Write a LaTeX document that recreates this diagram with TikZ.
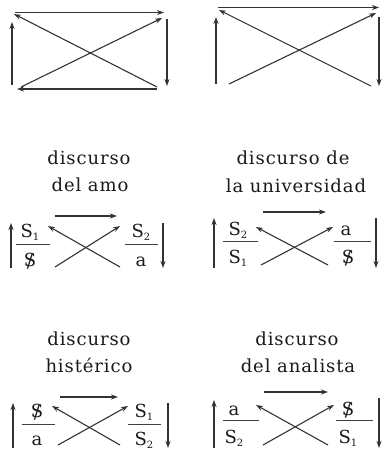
\documentclass[tikz,border=0pt]{standalone}
\usepackage{fontspec}
\setmainfont{DejaVu Serif}
\newfontfamily\labfont[LetterSpace=5]{DejaVu Serif}
\usetikzlibrary{arrows.meta}
\newcommand{\Sbarred}{\ooalign{S\cr\hidewidth\raisebox{-0.12ex}{/}\hidewidth}}
\newcommand{\Sub}[1]{S\raisebox{-0.35ex}{\fontsize{10}{10}\selectfont #1}}
\begin{document}
\begin{tikzpicture}[x=1pt,y=-1pt,
  arr/.style={draw=black!80,line width=1.1pt,-{Stealth[length=7pt,width=5pt]}},
  fbar/.style={draw=black!75,line width=0.9pt},
  title/.style={font=\labfont\fontsize{18}{20}\selectfont,anchor=base,inner sep=0pt,text=black!90},
  sym/.style={font=\fontsize{18}{18}\selectfont,anchor=base,inner sep=0pt,text=black!90}]
\useasboundingbox (0,0) rectangle (382,454);

% ---------- top-left diagram ----------
\coordinate (tla) at (12,85);  \coordinate (tlb) at (12,22);
\coordinate (tlc) at (15,12.5);\coordinate (tld) at (164,12.5);
\coordinate (tle) at (157,87); \coordinate (tlf) at (14,14);
\coordinate (tlg) at (21,87);  \coordinate (tlh) at (162,18);
\coordinate (tli) at (167,19); \coordinate (tlj) at (167,86);
\coordinate (tlk) at (157,89); \coordinate (tll) at (17,89);
\draw[arr] (tla) -- (tlb);
\draw[arr] (tlc) -- (tld);
\draw[arr] (tle) -- (tlf);
\draw[arr] (tlg) -- (tlh);
\draw[arr] (tli) -- (tlj);
\draw[arr] (tlk) -- (tll);

% ---------- top-right diagram ----------
\coordinate (tra) at (216,84);  \coordinate (trb) at (216,17);
\coordinate (trc) at (218,7.5); \coordinate (trd) at (379,7.5);
\coordinate (tre) at (371,86);  \coordinate (trf) at (219,10);
\coordinate (trg) at (229,84);  \coordinate (trh) at (376,13);
\coordinate (tri) at (379,17);  \coordinate (trj) at (379,86);
\draw[arr] (tra) -- (trb);
\draw[arr] (trc) -- (trd);
\draw[arr] (tre) -- (trf);
\draw[arr] (trg) -- (trh);
\draw[arr] (tri) -- (trj);

% ---------- discurso del amo ----------
\node[title] (amoA) at (89,165) {discurso};
\node[title] (amoB) at (90,192) {del amo};
\node[sym] (amoN1) at (30,237) {\Sub{1}};
\node[sym] (amoD1) at (30,266) {\Sbarred};
\node[sym] (amoN2) at (141,237) {\Sub{2}};
\node[sym] (amoD2) at (141,266) {a};
\coordinate (amoB1a) at (16,244); \coordinate (amoB1b) at (50,244);
\coordinate (amoB2a) at (125,244); \coordinate (amoB2b) at (158,244);
\draw[fbar] (amoB1a) -- (amoB1b);
\draw[fbar] (amoB2a) -- (amoB2b);
\coordinate (amoTa) at (55,216); \coordinate (amoTb) at (117,216);
\coordinate (amoLa) at (11,268); \coordinate (amoLb) at (11,223);
\coordinate (amoRa) at (163,223); \coordinate (amoRb) at (163,268);
\coordinate (amoXa) at (120,267); \coordinate (amoXb) at (48,226);
\coordinate (amoYa) at (55,267); \coordinate (amoYb) at (120,226);
\draw[arr] (amoTa) -- (amoTb);
\draw[arr] (amoLa) -- (amoLb);
\draw[arr] (amoRa) -- (amoRb);
\draw[arr] (amoXa) -- (amoXb);
\draw[arr] (amoYa) -- (amoYb);

% ---------- discurso de la universidad ----------
\node[title] (uniA) at (293,165) {discurso de};
\node[title] (uniB) at (296,193) {la universidad};
\node[sym] (uniN1) at (238,235) {\Sub{2}};
\node[sym] (uniD1) at (238,263) {\Sub{1}};
\node[sym] (uniN2) at (346,235) {a};
\node[sym] (uniD2) at (348,263) {\Sbarred};
\coordinate (uniB1a) at (223,241); \coordinate (uniB1b) at (258,241);
\coordinate (uniB2a) at (334,241); \coordinate (uniB2b) at (371,241);
\draw[fbar] (uniB1a) -- (uniB1b);
\draw[fbar] (uniB2a) -- (uniB2b);
\coordinate (uniTa) at (263,212); \coordinate (uniTb) at (326,212);
\coordinate (uniLa) at (214,268); \coordinate (uniLb) at (214,218);
\coordinate (uniRa) at (376,218); \coordinate (uniRb) at (376,268);
\coordinate (uniXa) at (328,265); \coordinate (uniXb) at (256,227);
\coordinate (uniYa) at (261,265); \coordinate (uniYb) at (333,227);
\draw[arr] (uniTa) -- (uniTb);
\draw[arr] (uniLa) -- (uniLb);
\draw[arr] (uniRa) -- (uniRb);
\draw[arr] (uniXa) -- (uniXb);
\draw[arr] (uniYa) -- (uniYb);

% ---------- discurso histerico ----------
\node[title] (hisA) at (89,345) {discurso};
\node[title] (hisB) at (89,372) {histérico};
\node[sym] (hisN1) at (37,417) {\Sbarred};
\node[sym] (hisD1) at (37,445) {a};
\node[sym] (hisN2) at (144,417) {\Sub{1}};
\node[sym] (hisD2) at (144,445) {\Sub{2}};
\coordinate (hisB1a) at (22,424); \coordinate (hisB1b) at (55,424);
\coordinate (hisB2a) at (128,424); \coordinate (hisB2b) at (161,424);
\draw[fbar] (hisB1a) -- (hisB1b);
\draw[fbar] (hisB2a) -- (hisB2b);
\coordinate (hisTa) at (60,397); \coordinate (hisTb) at (118,397);
\coordinate (hisLa) at (13,448); \coordinate (hisLb) at (13,403);
\coordinate (hisRa) at (168,403); \coordinate (hisRb) at (168,448);
\coordinate (hisXa) at (120,445); \coordinate (hisXb) at (52,406);
\coordinate (hisYa) at (58,445); \coordinate (hisYb) at (128,406);
\draw[arr] (hisTa) -- (hisTb);
\draw[arr] (hisLa) -- (hisLb);
\draw[arr] (hisRa) -- (hisRb);
\draw[arr] (hisXa) -- (hisXb);
\draw[arr] (hisYa) -- (hisYb);

% ---------- discurso del analista ----------
\node[title] (anaA) at (297,345) {discurso};
\node[title] (anaB) at (298,372) {del analista};
\node[sym] (anaN1) at (234,415) {a};
\node[sym] (anaD1) at (234,443) {\Sub{2}};
\node[sym] (anaN2) at (348,415) {\Sbarred};
\node[sym] (anaD2) at (348,443) {\Sub{1}};
\coordinate (anaB1a) at (223,420); \coordinate (anaB1b) at (259,420);
\coordinate (anaB2a) at (336,420); \coordinate (anaB2b) at (373,420);
\draw[fbar] (anaB1a) -- (anaB1b);
\draw[fbar] (anaB2a) -- (anaB2b);
\coordinate (anaTa) at (264,392); \coordinate (anaTb) at (328,392);
\coordinate (anaLa) at (214,448); \coordinate (anaLb) at (214,400);
\coordinate (anaRa) at (379,398); \coordinate (anaRb) at (379,448);
\coordinate (anaXa) at (328,445); \coordinate (anaXb) at (256,405);
\coordinate (anaYa) at (263,445); \coordinate (anaYb) at (334,405);
\draw[arr] (anaTa) -- (anaTb);
\draw[arr] (anaLa) -- (anaLb);
\draw[arr] (anaRa) -- (anaRb);
\draw[arr] (anaXa) -- (anaXb);
\draw[arr] (anaYa) -- (anaYb);
\end{tikzpicture}
\end{document}
